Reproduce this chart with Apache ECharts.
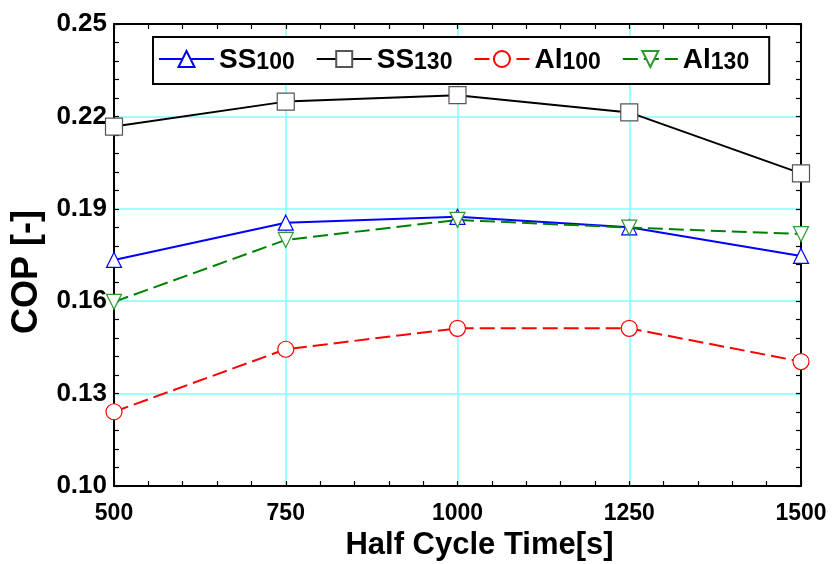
<!DOCTYPE html>
<html>
<head>
<meta charset="utf-8">
<script src="https://cdn.jsdelivr.net/npm/echarts@6/dist/echarts.min.js"></script>
<style>
  html, body { margin: 0; padding: 0; background: #fff; }
  #main { width: 834px; height: 564px; }
</style>
</head>
<body>
<div id="main"></div>
<script>
  // half cycle time [s]
  var cycleTimes = [500, 750, 1000, 1250, 1500];
  // COP values
  var ss100 = [0.1734, 0.1855, 0.1874, 0.1840, 0.1747];
  var ss130 = [0.2167, 0.2248, 0.2269, 0.2213, 0.2015];
  var al100 = [0.1241, 0.1444, 0.1512, 0.1512, 0.1404];
  var al130 = [0.1598, 0.1799, 0.1864, 0.1839, 0.1818];

  var seriesNames = ['SS100', 'SS130', 'Al100', 'Al130'];
  var nameMain = ['SS', 'SS', 'Al', 'Al'];
  var nameSub = ['100', '130', '100', '130'];

  var xTicks = { min: 500, max: 1500, interval: 250 };
  var yTicks = { min: 0.10, max: 0.25, interval: 0.03 };

  var FONT = '"Liberation Sans", Arial, sans-serif';

  function pairs(vals) {
    return cycleTimes.map(function (t, i) { return [t, vals[i]]; });
  }

  var chart = echarts.init(document.getElementById('main'));

  var boxAxis = {
    axisLine: { show: true, onZero: false, lineStyle: { color: '#000', width: 2 } },
    axisTick: { show: true, inside: true, length: 5, lineStyle: { color: '#000', width: 1.2 } },
    minorTick: { show: true, splitNumber: 5, length: 5, lineStyle: { color: '#000', width: 1.2 } },
    axisLabel: { show: false },
    splitLine: { show: false }
  };

  function lineSeries(idx, data, color, dash, symbol, symbolColor, size, rotate) {
    return {
      name: seriesNames[idx],
      type: 'line',
      data: pairs(data),
      symbol: symbol,
      symbolSize: size,
      symbolRotate: rotate || 0,
      showAllSymbol: true,
      lineStyle: { color: color, width: 2, type: dash },
      itemStyle: { color: '#fff', borderColor: symbolColor, borderWidth: 1.2 },
      emphasis: { disabled: true },
      z: 3
    };
  }

  chart.setOption({
    animation: false,
    backgroundColor: '#fff',
    grid: { left: 114, right: 33, top: 24, bottom: 78, containLabel: false, outerBoundsMode: 'none' },
    legend: {
      left: 153,
      top: 37,
      padding: [9, 20, 10, 5],
      itemGap: 21,
      itemWidth: 55,
      itemHeight: 20,
      borderColor: '#000',
      borderWidth: 2,
      backgroundColor: '#fff',
      data: seriesNames,
      formatter: function (name) {
        var i = seriesNames.indexOf(name);
        return '{a|' + nameMain[i] + '}{b|' + nameSub[i] + '}';
      },
      textStyle: {
        rich: {
          a: { fontFamily: FONT, fontWeight: 'bold', fontSize: 28, color: '#000', lineHeight: 30, verticalAlign: 'bottom' },
          b: { fontFamily: FONT, fontWeight: 'bold', fontSize: 23, color: '#000', lineHeight: 13, verticalAlign: 'bottom' }
        }
      }
    },
    xAxis: [
      {
        type: 'value',
        position: 'bottom',
        min: xTicks.min, max: xTicks.max, interval: xTicks.interval,
        name: 'Half Cycle Time[s]',
        nameLocation: 'middle',
        nameGap: 35,
        nameTextStyle: { fontFamily: FONT, fontWeight: 'bold', fontSize: 31, color: '#000', padding: [0, 0, 0, 44] },
        axisLine: boxAxis.axisLine,
        axisTick: boxAxis.axisTick,
        minorTick: boxAxis.minorTick,
        axisLabel: {
          fontFamily: FONT, fontWeight: 'bold', fontSize: 23, color: '#000', margin: 16,
          formatter: function (v) { return String(v); }
        },
        splitLine: { show: true, lineStyle: { color: '#80ffff', width: 1.5 } }
      },
      Object.assign({ type: 'value', position: 'top', min: xTicks.min, max: xTicks.max, interval: xTicks.interval }, boxAxis)
    ],
    yAxis: [
      {
        type: 'value',
        position: 'left',
        min: yTicks.min, max: yTicks.max, interval: yTicks.interval,
        name: 'COP [-]',
        nameLocation: 'middle',
        nameGap: 67,
        nameTextStyle: { fontFamily: FONT, fontWeight: 'bold', fontSize: 36, color: '#000', padding: [0, 34, 0, 0] },
        axisLine: boxAxis.axisLine,
        axisTick: boxAxis.axisTick,
        minorTick: boxAxis.minorTick,
        axisLabel: {
          fontFamily: FONT, fontWeight: 'bold', fontSize: 26, color: '#000', margin: 7,
          formatter: function (v) { return v.toFixed(2); }
        },
        splitLine: { show: true, lineStyle: { color: '#80ffff', width: 1.5 } }
      },
      Object.assign({ type: 'value', position: 'right', min: yTicks.min, max: yTicks.max, interval: yTicks.interval }, boxAxis)
    ],
    series: [
      lineSeries(0, ss100, '#0000ff', 'solid', 'triangle', '#0000ff', 15),
      lineSeries(1, ss130, '#000000', 'solid', 'rect', '#555555', 17),
      lineSeries(2, al100, '#ff0000', [15, 6], 'circle', '#ff0000', 16),
      lineSeries(3, al130, '#008000', [15, 6], 'triangle', '#2e9a2e', 15, 180)
    ]
  });
</script>
</body>
</html>
